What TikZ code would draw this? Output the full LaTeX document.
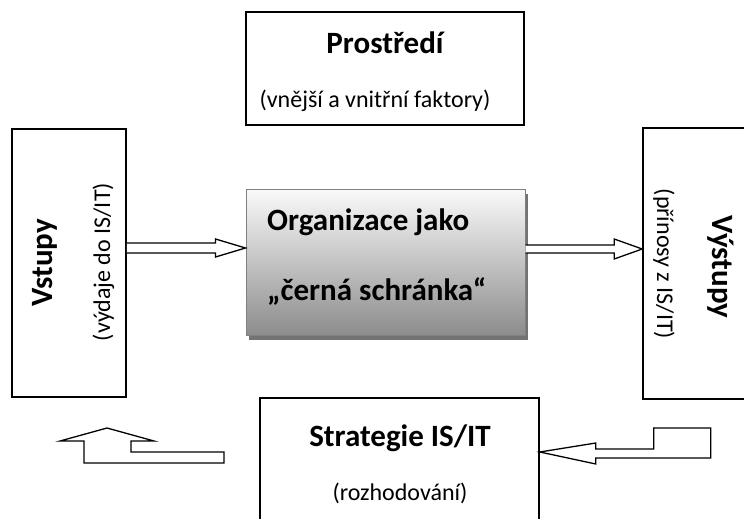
\documentclass[tikz,border=0pt]{standalone}
\usepackage{fontspec}
\setmainfont{Carlito}
\usetikzlibrary{calc,shadows}
\begin{document}
\begin{tikzpicture}[x=1pt,y=-1pt,
  box/.style={draw=black,line width=1.6pt,inner sep=0pt,fill=white},
  blackbox/.style={draw=black!50,line width=1pt,inner sep=0pt,
    top color=black!2,bottom color=black!45,
    drop shadow={shadow xshift=3pt,shadow yshift=-5pt,fill=black!55,opacity=1}},
  hollow/.style={draw=black,line width=1.3pt,fill=white,line join=miter},
  big/.style={font=\fontsize{31}{36}\selectfont\bfseries,inner sep=0pt},
  small/.style={font=\fontsize{24}{28}\selectfont,inner sep=0pt}]

\useasboundingbox (0,0) rectangle (744,519);
\clip (0,0) rectangle (744,519);

% boxes
\node[box,minimum width=278pt,minimum height=113pt] (env) at (385,68.5) {};
\node[box,minimum width=114pt,minimum height=268pt] (inB) at (69,263) {};
\node[box,minimum width=157pt,minimum height=271pt] (outB) at (721.5,263.5) {};
\node[box,minimum width=279pt,minimum height=142pt] (strat) at (399.5,469) {};
\node[blackbox,minimum width=279pt,minimum height=146pt] (org) at (385.5,262) {};

% texts
\node[big,anchor=base] (envT) at (385,53) {Prostředí};
\node[small,anchor=base] (envS) at (375,107) {(vnější a vnitřní faktory)};
\node[big,rotate=90,anchor=base] (inT) at (52,263) {Vstupy};
\node[small,rotate=90,anchor=base] (inS) at (110,262) {(výdaje do IS/IT)};
\node[big,rotate=-90,anchor=base] (outT) at (712,267) {Výstupy};
\node[small,rotate=-90,anchor=base] (outS) at (657,264) {(přínosy z IS/IT)};
\node[big,anchor=base west] (orgA) at (267,230) {Organizace jako};
\node[big,anchor=base west] (orgB) at (267,300) {„černá schránka“};
\node[big,anchor=base] (stratT) at (400,446) {Strategie IS/IT};
\node[small,anchor=base] (stratS) at (400,500) {(rozhodování)};

% inputs -> organisation
\path (inB.east |- 0,248) coordinate (a1s) (org.west |- 0,248) coordinate (a1e);
\draw[hollow] ($(a1s)+(0,-5)$) -- ($(a1e)+(-30,-5)$) -- ($(a1e)+(-30,-9)$) -- (a1e)
  -- ($(a1e)+(-30,9)$) -- ($(a1e)+(-30,5)$) -- ($(a1s)+(0,5)$);

% organisation -> outputs
\path (org.east |- 0,249) coordinate (a2s) (outB.west |- 0,249) coordinate (a2e);
\draw[hollow] ($(a2s)+(0,-4)$) -- ($(a2e)+(-28,-4)$) -- ($(a2e)+(-28,-10)$) -- (a2e)
  -- ($(a2e)+(-28,10)$) -- ($(a2e)+(-28,4)$) -- ($(a2s)+(0,4)$);

% feedback from outputs into the strategy
\path (strat.east |- 0,452) coordinate (a4e);
\draw[hollow] (a4e) -- +(56,-9) -- +(56,-3) -- +(114,-3) -- +(114,-24) -- +(171,-24)
  -- +(171,6) -- +(56,6) -- +(56,12) -- cycle;

% strategy back towards the inputs
\coordinate (a3s) at (224,452);
\draw[hollow] (a3s) -- +(-93,0) -- +(-93,-11) -- +(-70,-11) -- +(-117,-24) -- +(-164,-11)
  -- +(-140,-11) -- +(-140,11) -- +(0,11) -- cycle;

\end{tikzpicture}
\end{document}
